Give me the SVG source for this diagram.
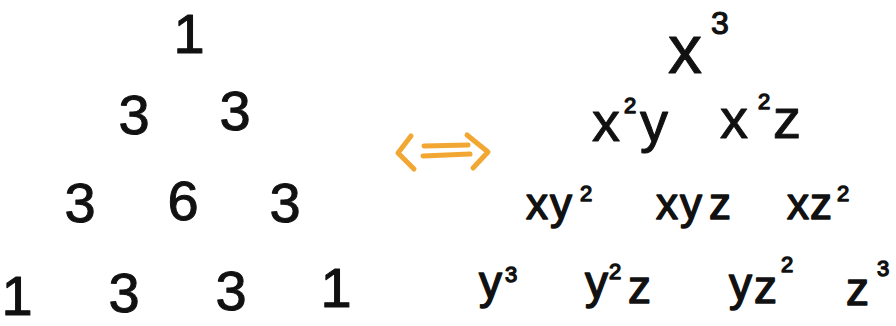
<svg xmlns="http://www.w3.org/2000/svg" width="896" height="326" viewBox="0 0 896 326">
<style>
text{font-family:"Liberation Sans",Arial,sans-serif;fill:#111;stroke:#111;stroke-linejoin:round}
.n{font-size:56px;stroke-width:1}
.v1{font-size:68px;stroke-width:1}
.v2{font-size:56px;stroke-width:1}
.v3{font-size:44px;stroke-width:1.4}
.v4{font-size:46px;stroke-width:1.4}
.s1{font-size:32px;stroke-width:1.2}
.s2{font-size:22px;stroke-width:1.4}
.s3{font-size:22px;stroke-width:1.4}
.s4{font-size:22px;stroke-width:1.4}
.arrow{fill:none;stroke:#F2A732;stroke-width:5;stroke-linecap:round;stroke-linejoin:round}
</style>
<rect width="896" height="326" fill="#fff"/>
<g id="pascal">
  <text class="n" x="189" y="53" text-anchor="middle">1</text>
  <text class="n" x="134" y="134" text-anchor="middle">3</text>
  <text class="n" x="235" y="130" text-anchor="middle">3</text>
  <text class="n" x="80" y="222" text-anchor="middle">3</text>
  <text class="n" x="183" y="220" text-anchor="middle">6</text>
  <text class="n" x="285" y="222" text-anchor="middle">3</text>
  <text class="n" x="17" y="315" text-anchor="middle">1</text>
  <text class="n" x="124" y="312" text-anchor="middle">3</text>
  <text class="n" x="231" y="310" text-anchor="middle">3</text>
  <text class="n" x="336" y="307" text-anchor="middle">1</text>
</g>
<g id="equiv">
  <path class="arrow" d="M411,136 L398,153 L414,169"/>
  <path class="arrow" d="M424,146 L468,145"/>
  <path class="arrow" d="M423,156 L470,154"/>
  <path class="arrow" d="M467,135 L488,152 L473,168"/>
</g>
<g id="monomials">
  <text class="v1" x="668" y="73">x</text><text class="s1" x="711" y="34">3</text>
  <text class="v2" x="592" y="141">x</text><text class="s2" x="624" y="113">2</text><text class="v2" x="640" y="141">y</text>
  <text class="v2" x="720" y="138">x</text><text class="s2" x="758" y="109">2</text><text class="v2" x="773" y="138">z</text>
  <text class="v3" x="526" y="219">x</text><text class="v3" x="550" y="219">y</text><text class="s3" x="580" y="201">2</text>
  <text class="v3" x="656" y="219">x</text><text class="v3" x="680" y="219">y</text><text class="v3" x="709" y="219">z</text>
  <text class="v3" x="787" y="219">x</text><text class="v3" x="810" y="219">z</text><text class="s3" x="837" y="201">2</text>
  <text class="v4" x="479" y="298">y</text><text class="s4" x="505" y="282">3</text>
  <text class="v4" x="585" y="298">y</text><text class="s4" x="609" y="279">2</text><text class="v4" x="628" y="303">z</text>
  <text class="v4" x="729" y="300">y</text><text class="v4" x="754" y="303">z</text><text class="s4" x="781" y="272">2</text>
  <text class="v4" x="846" y="305">z</text><text class="s4" x="877" y="276">3</text>
</g>
</svg>
